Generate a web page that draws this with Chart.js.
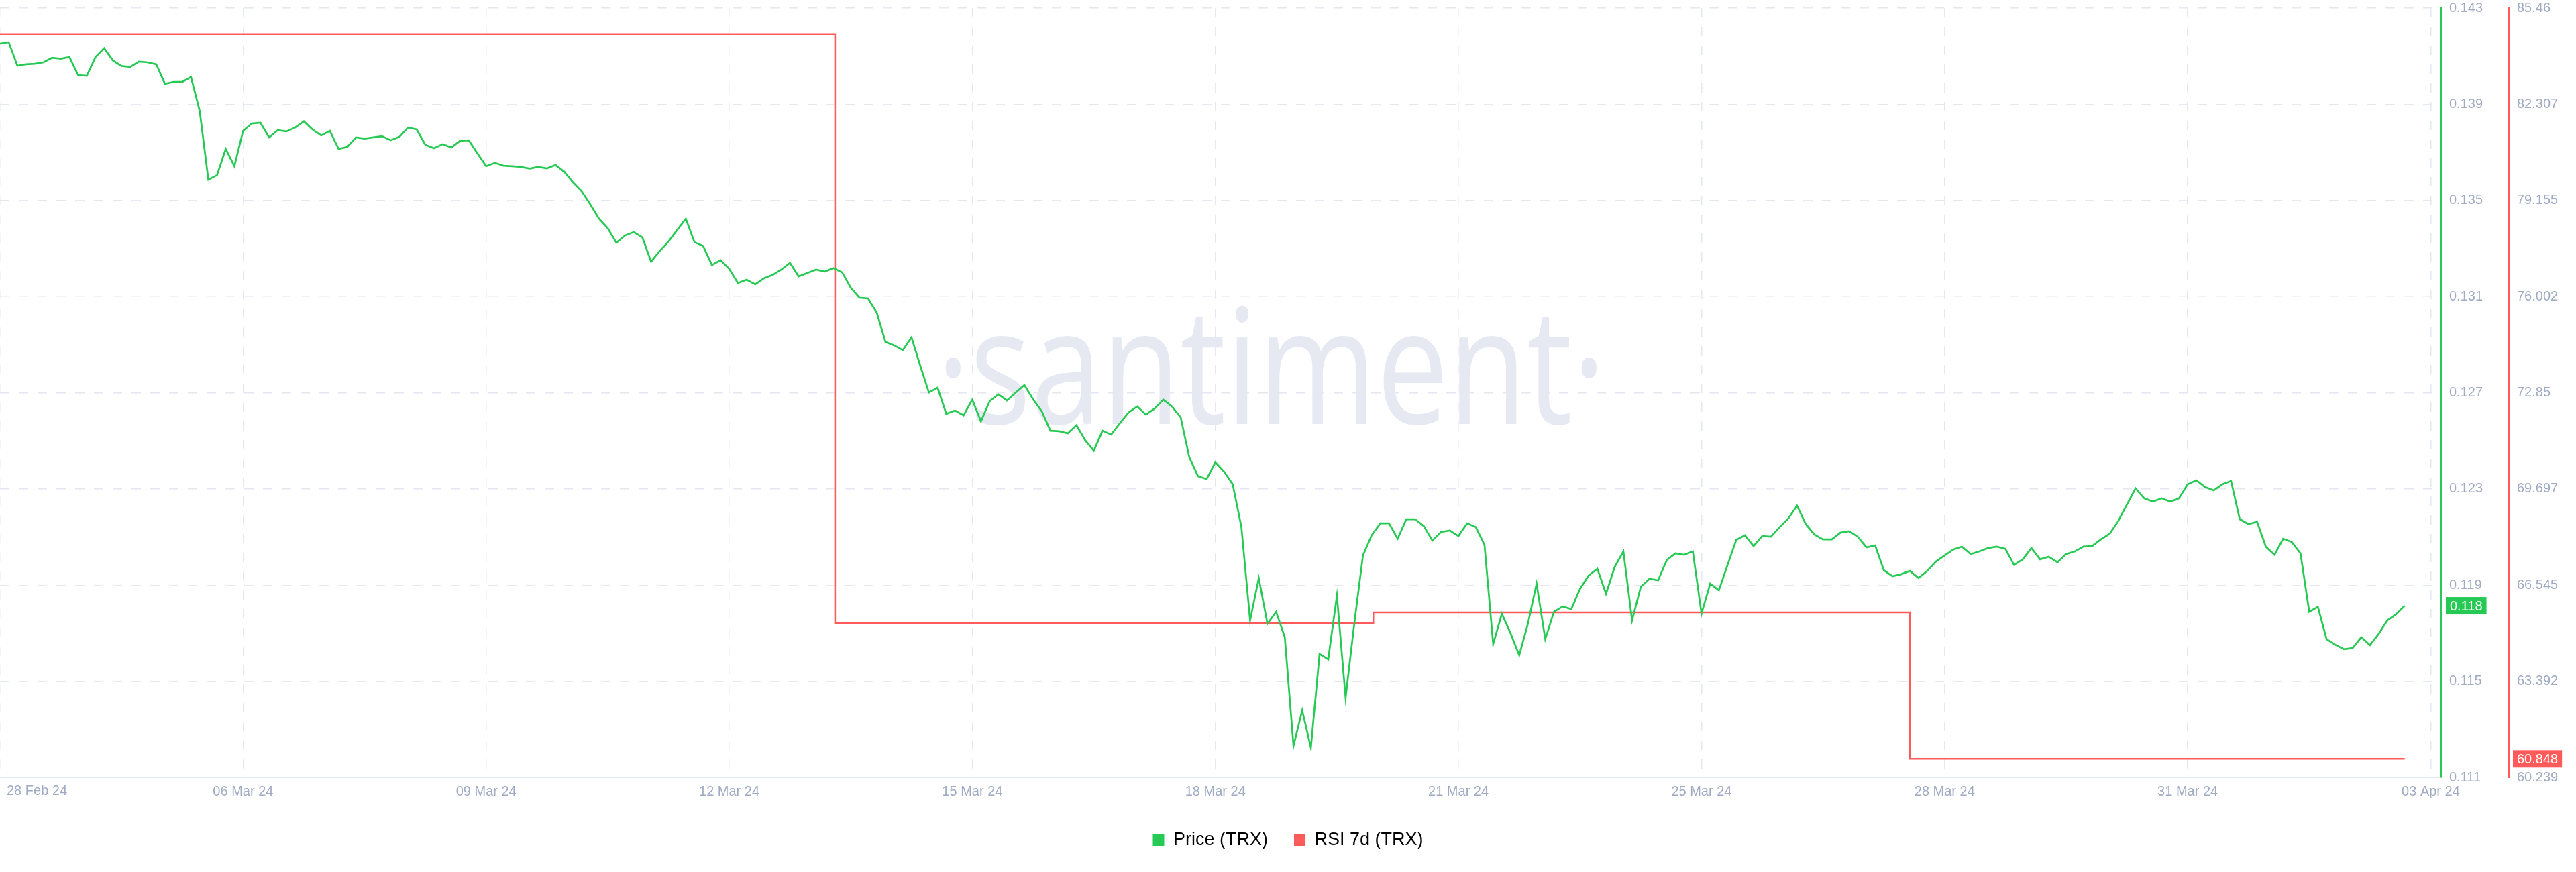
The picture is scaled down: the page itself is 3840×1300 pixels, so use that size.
<!DOCTYPE html>
<html>
<head>
<meta charset="utf-8">
<title>TRX Price and RSI 7d</title>
<script src="https://cdn.jsdelivr.net/npm/chart.js@4.4.1/dist/chart.umd.min.js"></script>
<style>
  html, body { margin: 0; padding: 0; background: #ffffff; }
  #wrap { width: 3840px; height: 1300px; }
</style>
</head>
<body>
<div id="wrap"><canvas id="trxChart" width="3840" height="1300"></canvas></div>
<script>
// x axis is in hours from the first label; one tick every 84 h
const tickHours = [0, 84, 168, 252, 336, 420, 504, 588, 672, 756, 840];
const dateLabels = ["28 Feb 24", "06 Mar 24", "09 Mar 24", "12 Mar 24", "15 Mar 24", "18 Mar 24",
                    "21 Mar 24", "25 Mar 24", "28 Mar 24", "31 Mar 24", "03 Apr 24"];

// price (TRX), one reading every 3 hours
const priceStepHours = 3;
const price = [
  0.14152, 0.14158, 0.14060, 0.14066, 0.14068, 0.14074, 0.14093, 0.14089, 0.14096, 0.14021,
  0.14018, 0.14096, 0.14133, 0.14082, 0.14059, 0.14055, 0.14077, 0.14074, 0.14066, 0.13985,
  0.13993, 0.13993, 0.14013, 0.13873, 0.13586, 0.13605, 0.13714, 0.13642, 0.13789, 0.13820,
  0.13823, 0.13762, 0.13792, 0.13787, 0.13803, 0.13829, 0.13795, 0.13770, 0.13789, 0.13714,
  0.13722, 0.13762, 0.13757, 0.13762, 0.13767, 0.13750, 0.13764, 0.13803, 0.13795, 0.13731,
  0.13717, 0.13734, 0.13720, 0.13748, 0.13750, 0.13695, 0.13642, 0.13656, 0.13644, 0.13642,
  0.13639, 0.13632, 0.13639, 0.13633, 0.13647, 0.13619, 0.13575, 0.13538, 0.13483, 0.13424,
  0.13385, 0.13324, 0.13354, 0.13368, 0.13346, 0.13245, 0.13290, 0.13329, 0.13377, 0.13424,
  0.13326, 0.13310, 0.13231, 0.13251, 0.13215, 0.13156, 0.13170, 0.13151, 0.13176, 0.13190,
  0.13212, 0.13240, 0.13184, 0.13198, 0.13212, 0.13204, 0.13218, 0.13201, 0.13137, 0.13095,
  0.13092, 0.13033, 0.12911, 0.12897, 0.12877, 0.12930, 0.12813, 0.12701, 0.12721, 0.12612,
  0.12626, 0.12606, 0.12671, 0.12581, 0.12665, 0.12693, 0.12668, 0.12701, 0.12732, 0.12673,
  0.12623, 0.12542, 0.12540, 0.12531, 0.12565, 0.12503, 0.12459, 0.12542, 0.12526, 0.12573,
  0.12618, 0.12643, 0.12609, 0.12634, 0.12671, 0.12643, 0.12598, 0.12431, 0.12353, 0.12341,
  0.12411, 0.12372, 0.12319, 0.12141, 0.11753, 0.11929, 0.11739, 0.11789, 0.11683, 0.11231,
  0.11379, 0.11223, 0.11613, 0.11591, 0.11856, 0.11432, 0.11739, 0.12023, 0.12107, 0.12157,
  0.12157, 0.12093, 0.12174, 0.12174, 0.12146, 0.12085, 0.12121, 0.12127, 0.12104, 0.12157,
  0.12141, 0.12068, 0.11655, 0.11781, 0.11700, 0.11608, 0.11739, 0.11906, 0.11675, 0.11789,
  0.11811, 0.11800, 0.11884, 0.11940, 0.11968, 0.11864, 0.11976, 0.12040, 0.11753, 0.11892,
  0.11926, 0.11920, 0.12004, 0.12032, 0.12026, 0.12040, 0.11781, 0.11906, 0.11878, 0.11984,
  0.12088, 0.12107, 0.12062, 0.12104, 0.12101, 0.12141, 0.12177, 0.12230, 0.12154, 0.12110,
  0.12090, 0.12090, 0.12118, 0.12124, 0.12101, 0.12057, 0.12065, 0.11962, 0.11937, 0.11945,
  0.11959, 0.11929, 0.11959, 0.11998, 0.12023, 0.12048, 0.12060, 0.12029, 0.12040, 0.12054,
  0.12060, 0.12051, 0.11984, 0.12007, 0.12054, 0.12007, 0.12018, 0.11995, 0.12029, 0.12040,
  0.12060, 0.12062, 0.12090, 0.12113, 0.12166, 0.12235, 0.12302, 0.12261, 0.12247, 0.12261,
  0.12247, 0.12261, 0.12319, 0.12336, 0.12308, 0.12294, 0.12319, 0.12333, 0.12174, 0.12154,
  0.12163, 0.12060, 0.12026, 0.12093, 0.12079, 0.12032, 0.11789, 0.11809, 0.11675, 0.11652,
  0.11633, 0.11638, 0.11683, 0.11650, 0.11697, 0.11753, 0.11778, 0.11814
];

// RSI 7d: hour at which each level starts, and the level
const rsiHours = [0, 288.6, 474.6, 660, 831];
const rsi = [84.61, 65.30, 65.65, 60.848, 60.848];

// axis tick labels
const priceTicks = [0.111, 0.115, 0.119, 0.123, 0.127, 0.131, 0.135, 0.139, 0.143];
const rsiTicks = [60.239, 63.392, 66.545, 69.697, 72.85, 76.002, 79.155, 82.307, 85.46];

const GREEN = "#26c953";
const RED = "#ff5b5b";
const TICK_COLOR = "#9faac4";
const GRID_COLOR = "#e5e8f1";
const FONT = '"Liberation Sans", Arial, sans-serif';

// faint santiment word behind the lines
const watermark = {
  id: "watermark",
  beforeDraw(chart) {
    const { ctx, chartArea: a } = chart;
    const text = "\u00b7santiment\u00b7";
    ctx.save();
    ctx.font = '400 240px "Open Sans"';
    ctx.fillStyle = "#e6e9f2";
    ctx.textAlign = "center";
    ctx.textBaseline = "alphabetic";
    const w = ctx.measureText(text).width;
    ctx.translate(a.left + a.width * 0.5207, a.top + a.height * 0.5405);
    ctx.scale((0.2743 * a.width) / w, 1);
    ctx.fillText(text, 0, 0);
    ctx.restore();
  }
};

// coloured boxes with the latest value on each y axis, plus the first date label
const axisExtras = {
  id: "axisExtras",
  afterDraw(chart) {
    const { ctx, scales } = chart;
    const lastPrice = price[price.length - 1];
    const lastRsi = rsi[rsi.length - 1];
    const badges = [
      { scale: scales.y, value: lastPrice, text: lastPrice.toFixed(3), color: GREEN, inset: 7 },
      { scale: scales.y1, value: lastRsi, text: String(lastRsi), color: RED, inset: 6 }
    ];
    ctx.save();
    ctx.font = "20px " + FONT;
    ctx.textBaseline = "middle";
    ctx.textAlign = "left";
    badges.forEach(b => {
      const yPx = b.scale.getPixelForValue(b.value);
      const w = ctx.measureText(b.text).width + 12;
      ctx.fillStyle = b.color;
      ctx.fillRect(b.scale.left + b.inset, yPx - 13, w, 26);
      ctx.fillStyle = "#ffffff";
      ctx.fillText(b.text, b.scale.left + b.inset + 6, yPx + 1);
    });
    // first date sits inside the plot instead of being centred on its tick
    ctx.fillStyle = TICK_COLOR;
    ctx.fillText(dateLabels[0], scales.x.left + 10, scales.x.top + 20);
    ctx.restore();
  }
};

const ctx = document.getElementById("trxChart").getContext("2d");
new Chart(ctx, {
  type: "line",
  data: {
    datasets: [
      {
        label: "Price (TRX)",
        data: price.map((v, i) => ({ x: i * priceStepHours, y: v })),
        yAxisID: "y",
        borderColor: GREEN,
        backgroundColor: GREEN,
        borderWidth: 2.7,
        pointRadius: 0,
        tension: 0
      },
      {
        label: "RSI 7d (TRX)",
        data: rsiHours.map((h, i) => ({ x: h, y: rsi[i] })),
        yAxisID: "y1",
        borderColor: RED,
        backgroundColor: RED,
        borderWidth: 2.5,
        pointRadius: 0,
        stepped: "before"
      }
    ]
  },
  options: {
    responsive: false,
    animation: false,
    devicePixelRatio: 1,
    events: [],
    layout: { padding: { top: 12, right: 0, bottom: 24, left: 0 } },
    scales: {
      x: {
        type: "linear",
        min: 0,
        max: 843.6,
        afterBuildTicks: scale => { scale.ticks = tickHours.map(v => ({ value: v })); },
        afterFit: scale => { scale.height = 41; scale.paddingLeft = 0; scale.paddingRight = 0; },
        grid: { color: GRID_COLOR, lineWidth: 1.5, drawTicks: false },
        border: { color: "#e3e7ef", width: 2, dash: [14, 14] },
        ticks: {
          autoSkip: false,
          maxRotation: 0,
          minRotation: 0,
          padding: 9,
          color: TICK_COLOR,
          font: { family: FONT, size: 20 },
          callback: (v, i) => (i === 0 ? "" : dateLabels[i])
        }
      },
      y: {
        position: "right",
        weight: 1,
        min: 0.111,
        max: 0.143,
        afterBuildTicks: scale => { scale.ticks = priceTicks.map(v => ({ value: v })); },
        afterFit: scale => { scale.width = 101; scale.paddingTop = 0; scale.paddingBottom = 0; },
        grid: { color: GRID_COLOR, lineWidth: 1.5, drawTicks: false },
        border: { color: GREEN, width: 2, dash: [14, 14] },
        ticks: {
          padding: 12,
          color: TICK_COLOR,
          font: { family: FONT, size: 20 },
          callback: v => v.toFixed(3)
        }
      },
      y1: {
        position: "right",
        weight: 2,
        min: 60.239,
        max: 85.46,
        afterBuildTicks: scale => { scale.ticks = rsiTicks.map(v => ({ value: v })); },
        afterFit: scale => { scale.width = 100; scale.paddingTop = 0; scale.paddingBottom = 0; },
        grid: { display: false, drawTicks: false },
        border: { color: RED, width: 2 },
        ticks: {
          padding: 12,
          color: TICK_COLOR,
          font: { family: FONT, size: 20 },
          callback: v => String(v)
        }
      }
    },
    plugins: {
      legend: {
        position: "bottom",
        labels: {
          boxWidth: 17,
          boxHeight: 17,
          padding: 39,
          color: "#1a1d2e",
          font: { family: FONT, size: 27 },
          generateLabels: chart => chart.data.datasets.map((ds, i) => ({
            text: ds.label,
            fillStyle: ds.borderColor,
            strokeStyle: ds.borderColor,
            lineWidth: 0,
            hidden: false,
            datasetIndex: i
          }))
        }
      },
      tooltip: { enabled: false }
    }
  },
  plugins: [watermark, axisExtras]
});
</script>
</body>
</html>
